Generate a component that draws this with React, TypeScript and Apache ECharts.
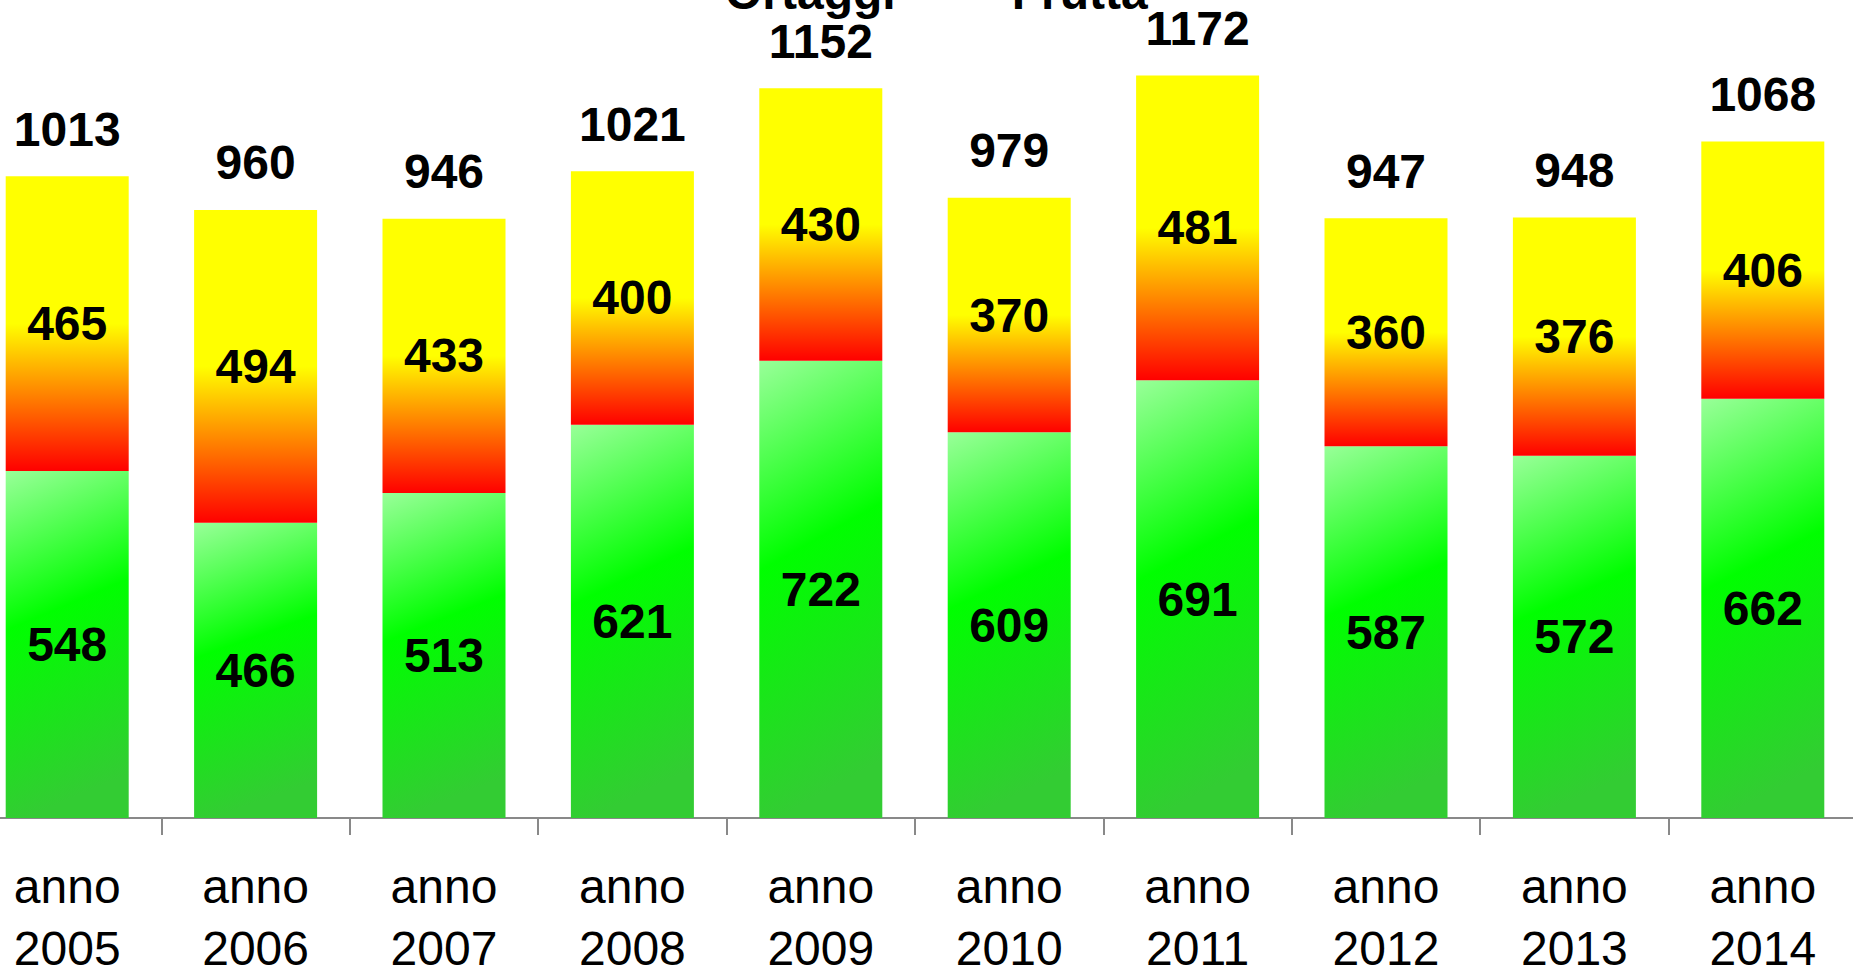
import React, { useEffect, useRef } from 'react';
import * as echarts from 'echarts';

const categories = ['anno 2005', 'anno 2006', 'anno 2007', 'anno 2008', 'anno 2009', 'anno 2010', 'anno 2011', 'anno 2012', 'anno 2013', 'anno 2014'];
const ortaggi = [548, 466, 513, 621, 722, 609, 691, 587, 572, 662];
const frutta = [465, 494, 433, 400, 430, 370, 481, 360, 376, 406];
const totali = ortaggi.map((v, i) => v + frutta[i]);

const FONT = 'Liberation Sans';
const W = 1884;
const H = 1071;

export default function App() {
  const ref = useRef<HTMLDivElement>(null);
  useEffect(() => {
    const chart = echarts.init(ref.current!, null, { renderer: 'svg', width: W, height: H });
    const green = new echarts.graphic.LinearGradient(0, 0, 0.15, 1, [
      { offset: 0, color: '#99FF99' },
      { offset: 0.45, color: '#00FF00' },
      { offset: 1, color: '#33CC33' },
    ]);
    const yellowRed = new echarts.graphic.LinearGradient(0, 0, 0, 1, [
      { offset: 0, color: '#FFFF00' },
      { offset: 0.5, color: '#FFFF00' },
      { offset: 0.62, color: '#FFC000' },
      { offset: 1, color: '#FF0000' },
    ]);
    const insideLabel = {
      show: true,
      position: 'inside',
      color: '#000',
      fontFamily: FONT,
      fontWeight: 'bold',
      fontSize: 48,
    };
    chart.setOption({
      animation: false,
      backgroundColor: '#fff',
      textStyle: { fontFamily: FONT },
      legend: {
        data: ['Ortaggi', 'Frutta'],
        left: 722,
        top: 68,
        padding: 0,
        itemWidth: 25,
        itemHeight: 14,
        itemGap: 86,
        textStyle: { fontFamily: FONT, fontWeight: 'bold', fontSize: 48, color: '#000' },
      },
      grid: { left: 0, right: 0, top: 31.2, bottom: 153, containLabel: false, outerBoundsMode: 'none' },
      xAxis: {
        type: 'category',
        data: categories,
        axisLine: { lineStyle: { color: '#898989', width: 2 } },
        axisTick: { show: true, length: 17, lineStyle: { color: '#898989', width: 2 } },
        axisLabel: {
          margin: 37,
          color: '#000',
          fontFamily: FONT,
          fontSize: 48,
          lineHeight: 62,
          formatter: (v: string) => v.replace(' ', '\n'),
        },
      },
      yAxis: {
        type: 'value',
        min: 0,
        max: 1400,
        show: false,
        splitLine: { show: false },
      },
      series: [
        {
          name: 'Ortaggi',
          type: 'bar',
          stack: 'tot',
          barWidth: 123,
          data: ortaggi,
          itemStyle: { color: green },
          label: insideLabel,
        },
        {
          name: 'Frutta',
          type: 'bar',
          stack: 'tot',
          barWidth: 123,
          data: frutta,
          itemStyle: { color: yellowRed },
          label: insideLabel,
        },
        {
          name: 'Totale',
          type: 'bar',
          barWidth: 123,
          barGap: '-100%',
          data: totali,
          itemStyle: { color: 'rgba(0,0,0,0)' },
          z: 5,
          label: {
            show: true,
            position: 'top',
            distance: 23,
            color: '#000',
            fontFamily: FONT,
            fontWeight: 'bold',
            fontSize: 48,
          },
        },
      ],
    });
    return () => chart.dispose();
  }, []);
  return (
    <div style={{ position: 'fixed', left: 0, top: 0, width: 1853, height: 971, overflow: 'hidden', background: '#fff' }}>
      <div ref={ref} style={{ position: 'absolute', left: -27, top: -100, width: W, height: H }} />
    </div>
  );
}
